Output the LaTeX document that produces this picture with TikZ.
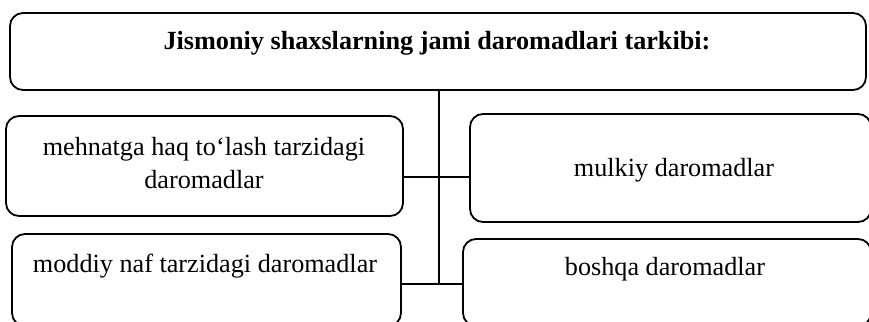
\documentclass[tikz,border=0pt]{standalone}
\usepackage{fontspec}
\setmainfont{Liberation Serif}
\begin{document}
\begin{tikzpicture}[x=1pt,y=-1pt,
  box/.style={draw=black, line width=1.8pt, rounded corners=13pt, fill=white},
  lbl/.style={anchor=base, inner sep=0pt, align=center,
    font=\fontsize{26.2}{33}\selectfont},
  conn/.style={draw=black, line width=1.8pt}]
\useasboundingbox (0,0) rectangle (869,321);
\clip (0,0) rectangle (869,321);
% boxes
\path[box] (10,13) rectangle (866,90) node[pos=0.5, inner sep=0pt] (top) {};
\path[box] (6,116) rectangle (403,216) node[pos=0.5, inner sep=0pt] (A) {};
\path[box] (470,114) rectangle (871,222) node[pos=0.5, inner sep=0pt] (B) {};
\path[box] (12,234) rectangle (401,326) node[pos=0.5, inner sep=0pt] (C) {};
\path[box] (463,239) rectangle (871,326) node[pos=0.5, inner sep=0pt] (D) {};
% named box edges
\coordinate (topS) at (439,90);
\coordinate (Ae) at (403,177);
\coordinate (Bw) at (470,177);
\coordinate (Ce) at (401,284);
\coordinate (Dw) at (463,284);
\coordinate (j2) at (439,284);
% texts
\node[lbl, font=\fontsize{26.2}{33}\selectfont\bfseries] (tt) at (437,50) {Jismoniy shaxslarning jami daromadlari tarkibi:};
\node[lbl] (ta1) at (204,155) {mehnatga haq to‘lash tarzidagi};
\node[lbl] (ta2) at (204,188) {daromadlar};
\node[lbl] (tb) at (674,176) {mulkiy daromadlar};
\node[lbl] (tc) at (205,272) {moddiy naf tarzidagi daromadlar};
\node[lbl] (td) at (665,275) {boshqa daromadlar};
% connectors
\draw[conn] (topS) -- (j2);
\draw[conn] (Ae) -- (Bw);
\draw[conn] (Ce) -- (Dw);
\end{tikzpicture}
\end{document}
